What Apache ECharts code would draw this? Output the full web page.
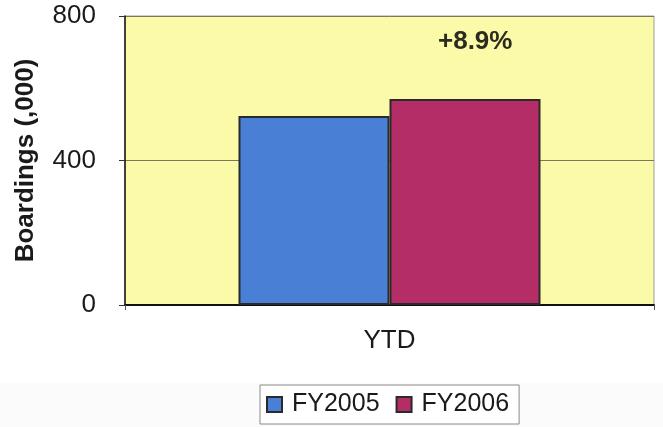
<!DOCTYPE html>
<html>
<head>
<meta charset="utf-8">
<script src="https://cdn.jsdelivr.net/npm/echarts@6/dist/echarts.min.js"></script>
<style>
html,body{margin:0;padding:0;background:#fff;}
#chart{width:663px;height:427px;}
</style>
</head>
<body>
<div id="chart"></div>
<script>
var categories = ['YTD'];
var seriesNames = ['FY2005', 'FY2006'];
var fy2005 = [523];
var fy2006 = [570];
var yTicks = [0, 400, 800];
var annotationText = ['+8.9%'];

var FONT = '"Liberation Sans", Arial, sans-serif';
var chart = echarts.init(document.getElementById('chart'));
chart.setOption({
  animation: false,
  backgroundColor: '#ffffff',
  graphic: [
    { type: 'rect', left: 0, top: 383, shape: { width: 663, height: 44 }, style: { fill: '#fbfbfb' }, z: -10 }
  ],
  title: {
    text: annotationText[0],
    left: 433, top: 24,
    textStyle: { fontFamily: FONT, fontSize: 26, fontWeight: 'bold', color: '#2b2b1e' }
  },
  grid: {
    left: 125, right: 9, top: 16, bottom: 122,
    show: true, backgroundColor: '#fafaa8', borderColor: '#a0a090', borderWidth: 1
  },
  legend: {
    data: seriesNames,
    left: 260, top: 385,
    padding: [7, 10, 7, 6],
    icon: 'rect',
    itemWidth: 15, itemHeight: 15, itemGap: 16,
    backgroundColor: '#ffffff',
    borderColor: '#8a8a8a', borderWidth: 1, borderRadius: 0,
    textStyle: { fontFamily: FONT, fontSize: 25, color: '#1a1a1a', padding: [0, 0, 0, 5] }
  },
  xAxis: {
    type: 'category',
    data: categories,
    axisLine: { show: true, lineStyle: { color: '#111', width: 2 } },
    axisTick: { show: true, alignWithLabel: false, length: 5, lineStyle: { color: '#555' } },
    axisLabel: { fontFamily: FONT, fontSize: 26, color: '#1a1a1a', margin: 23 }
  },
  yAxis: {
    type: 'value',
    min: yTicks[0], max: yTicks[yTicks.length - 1], interval: yTicks[1] - yTicks[0],
    name: 'Boardings (,000)',
    nameLocation: 'middle', nameGap: 86,
    nameTextStyle: { fontFamily: FONT, fontSize: 26, fontWeight: 'bold', color: '#1a1a1a' },
    axisLine: { show: true, lineStyle: { color: '#111', width: 1.5 } },
    axisTick: { show: true, inside: false, length: 6, lineStyle: { color: '#333' } },
    axisLabel: { fontFamily: FONT, fontSize: 26, color: '#1a1a1a', margin: 29 },
    splitLine: { show: true, lineStyle: { color: '#7a7a5a', width: 1 } }
  },
  series: [
    {
      name: seriesNames[0], type: 'bar', data: fy2005,
      barWidth: 151, barGap: '0%',
      itemStyle: { color: '#4a7fd6', borderColor: '#2a2a2a', borderWidth: 2 }
    },
    {
      name: seriesNames[1], type: 'bar', data: fy2006,
      barWidth: 151, barGap: '0%',
      itemStyle: { color: '#b52d66', borderColor: '#2a2a2a', borderWidth: 2 }
    }
  ]
});
</script>
</body>
</html>
